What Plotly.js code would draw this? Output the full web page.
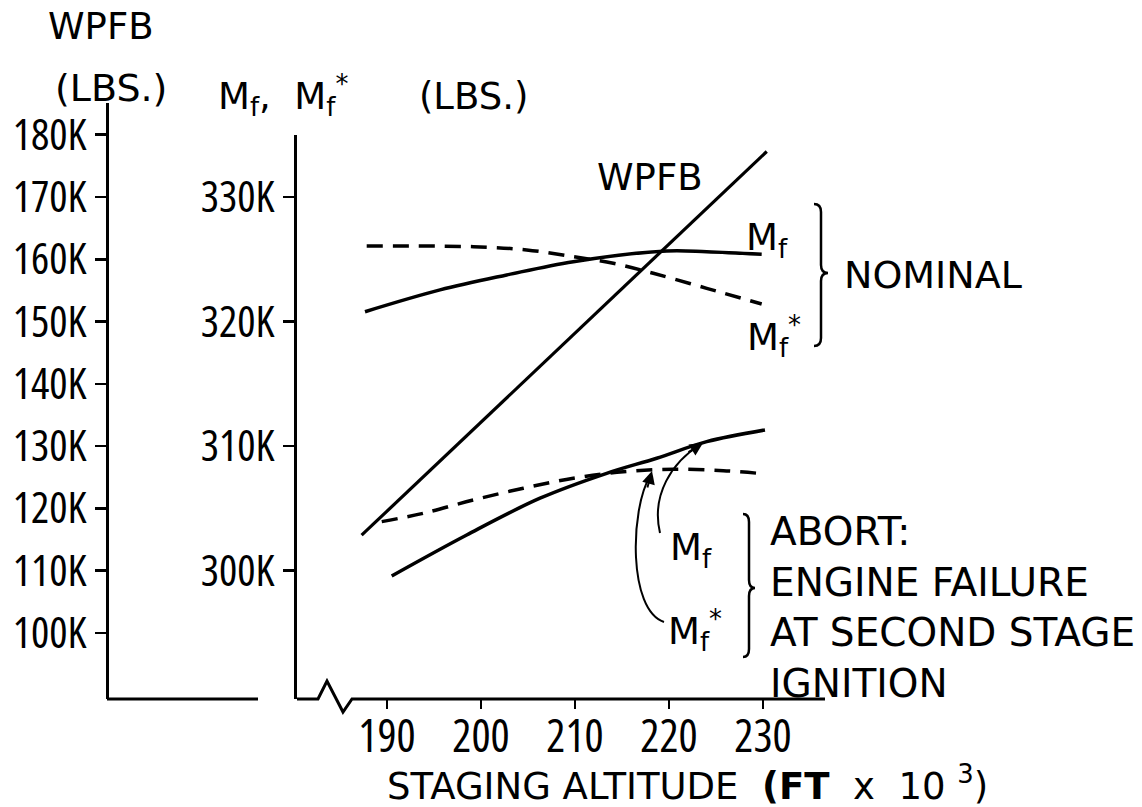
<!DOCTYPE html>
<html>
<head>
<meta charset="utf-8">
<script src="https://cdn.plot.ly/plotly-3.0.1.min.js"></script>
<style>
  html, body { margin: 0; padding: 0; background: #fff; }
  #chart { width: 1142px; height: 807px; }
  .xtick text, .ytick text, .y2tick text { font-stretch: 75%; }
</style>
</head>
<body>
<div id="chart"></div>
<script>
// ---------------- DATA ----------------
// Staging altitude in thousands of ft, masses in thousands of lbs
const altitudeTicks = [190, 200, 210, 220, 230];
const wpfbTicks = [100, 110, 120, 130, 140, 150, 160, 170, 180];
const mfTicks = [300, 310, 320, 330];

const altWPFB = [187.3, 230.4];
const wpfb = [115.7, 177.3];

const altNominalMf = [187.66, 195.64, 202.73, 209.82, 219.76, 224.01, 229.86];
const nominalMf = [320.79, 322.54, 323.74, 324.81, 325.67, 325.61, 325.40];

const altNominalMfStar = [187.84, 199.18, 204.86, 209.82, 214.07, 218.33, 224.01, 229.86];
const nominalMfStar = [326.07, 326.01, 325.75, 325.21, 324.68, 323.88, 322.67, 321.41];

const altAbortMf = [190.5, 198.48, 206.28, 213.37, 218.69, 224.01, 230.21];
const abortMf = [299.58, 302.87, 305.82, 307.82, 309.03, 310.36, 311.30];

const altAbortMfStar = [189.44, 193.86, 199.18, 204.5, 209.82, 215.14, 220.46, 225.78, 230.21];
const abortMfStar = [303.94, 304.61, 305.68, 306.62, 307.42, 307.95, 308.15, 308.03, 307.77];

// ---------------- LAYOUT HELPERS ----------------
const W = 1142, H = 807;
const fx = px => px / W;
const fy = py => 1 - py / H;
const TXT = '"DejaVu Sans", "Liberation Sans", sans-serif';
const NUM = '"Open Sans", "DejaVu Sans Condensed", "DejaVu Sans", sans-serif';
const INK = '#000';

const lineStyle = (dash) => ({ color: INK, width: 3.5, dash: dash, shape: 'spline', smoothing: 1 });

const traces = [
  { x: altWPFB, y: wpfb, xaxis: 'x', yaxis: 'y', mode: 'lines',
    line: { color: INK, width: 3.2 }, hoverinfo: 'skip', showlegend: false },
  { x: altNominalMf, y: nominalMf, xaxis: 'x', yaxis: 'y2', mode: 'lines',
    line: lineStyle('solid'), showlegend: false },
  { x: altNominalMfStar, y: nominalMfStar, xaxis: 'x', yaxis: 'y2', mode: 'lines',
    line: lineStyle('16px,10px'), showlegend: false },
  { x: altAbortMf, y: abortMf, xaxis: 'x', yaxis: 'y2', mode: 'lines',
    line: lineStyle('solid'), showlegend: false },
  { x: altAbortMfStar, y: abortMfStar, xaxis: 'x', yaxis: 'y2', mode: 'lines',
    line: lineStyle('16px,10px'), showlegend: false }
];

// pixel geometry of the frame
const xLeftPx = 297, xRightPx = 825, x190Px = 387, x230Px = 763;
const pxPerAlt = (x230Px - x190Px) / 40;
const baseY = 699;
const w100Px = 633, w170Px = 197;
const pxPerW = (w100Px - w170Px) / 70;
const pxPerMf = 2 * pxPerW; // 330K aligned with 170K

const xRange = [190 - (x190Px - xLeftPx) / pxPerAlt, 230 + (xRightPx - x230Px) / pxPerAlt];
const wTopPx = 103, mfTopPx = 135;
const wRange = [100 - (baseY - w100Px) / pxPerW, 100 + (w100Px - wTopPx) / pxPerW];
const mfRange = [330 - (baseY - w170Px) / pxPerMf, 330 + (w170Px - mfTopPx) / pxPerMf];

// path helpers (paper coords from pixels)
const pp = (px, py) => `${fx(px)},${fy(py)}`;
function brace(x0, w, yTop, yMid, yBot) {
  const r = 8;
  return `M ${pp(x0, yTop)} Q ${pp(x0 + w, yTop)} ${pp(x0 + w, yTop + r)} ` +
         `L ${pp(x0 + w, yMid - r)} Q ${pp(x0 + w, yMid)} ${pp(x0 + 2 * w, yMid)} ` +
         `Q ${pp(x0 + w, yMid)} ${pp(x0 + w, yMid + r)} ` +
         `L ${pp(x0 + w, yBot - r)} Q ${pp(x0 + w, yBot)} ${pp(x0, yBot)}`;
}
// data-coordinate helpers for annotation arrows
const dx = px => 190 + (px - x190Px) / pxPerAlt;
const dmf = py => 330 + (w170Px - py) / pxPerMf;
const dp = (px, py) => `${dx(px)},${dmf(py)}`;

const shapes = [
  // WPFB axis foot
  { type: 'line', xref: 'paper', yref: 'paper', x0: fx(107), x1: fx(258), y0: fy(baseY), y1: fy(baseY),
    line: { color: INK, width: 3 } },
  // altitude axis with break
  { type: 'path', xref: 'paper', yref: 'paper',
    path: `M ${pp(xLeftPx, baseY)} L ${pp(318, baseY)} L ${pp(327, 681)} L ${pp(343, 712)} L ${pp(352, baseY)} L ${pp(xRightPx, baseY)}`,
    line: { color: INK, width: 3 } },
  // braces
  { type: 'path', xref: 'paper', yref: 'paper', path: brace(814, 7, 204, 273, 346), line: { color: INK, width: 2.5 } },
  { type: 'path', xref: 'paper', yref: 'paper', path: brace(743, 6, 514, 588, 657), line: { color: INK, width: 2.5 } },
  // curved pointer arrows (abort group)
  { type: 'path', xref: 'x', yref: 'y2',
    path: `M ${dp(660, 533)} C ${dp(651, 495)} ${dp(672, 462)} ${dp(700, 445)}`, line: { color: INK, width: 2 } },
  { type: 'path', xref: 'x', yref: 'y2',
    path: `M ${dp(664, 622)} C ${dp(628, 610)} ${dp(630, 510)} ${dp(650, 476)}`, line: { color: INK, width: 2 } }
];

const txt = (text, px, py, xanchor, size, extra) => Object.assign({
  text: text, xref: 'paper', yref: 'paper', x: fx(px), y: fy(py),
  xanchor: xanchor || 'left', yanchor: 'middle', showarrow: false,
  font: { family: TXT, size: size || 38, color: INK }
}, extra || {});

const annotations = [
  txt('WPFB', 101, 27, 'center', 37),
  txt('(LBS.)', 111, 88, 'center', 38),
  txt('M<sub>f</sub>,&nbsp;&nbsp;M<sub>f</sub><sup>*</sup>&nbsp;&nbsp;&nbsp;&nbsp;&nbsp;&nbsp;(LBS.)', 216, 96, 'left', 37),
  txt('WPFB', 650, 178, 'center', 37),
  txt('M<sub>f</sub>', 744, 240, 'left', 37),
  txt('M<sub>f</sub><sup>*</sup>', 745, 336, 'left', 37),
  txt('NOMINAL', 842, 275, 'left', 38),
  txt('M<sub>f</sub>', 668, 550, 'left', 37),
  txt('M<sub>f</sub><sup>*</sup>', 666, 630, 'left', 37),
  txt('ABORT:<br>ENGINE FAILURE<br>AT SECOND STAGE<br>IGNITION', 768, 607, 'left', 39, { align: 'left' }),
  txt('STAGING&nbsp;ALTITUDE&nbsp;&nbsp;<b>(FT</b>&nbsp;&nbsp;x&nbsp;&nbsp;10&nbsp;<sup>3</sup>)', 385, 783, 'left', 37),
  // arrowheads of the pointers
  { xref: 'x', yref: 'y2', x: dx(703), y: dmf(443), text: '', showarrow: true,
    arrowhead: 2, arrowsize: 1.3, arrowwidth: 2, arrowcolor: INK, ax: -16, ay: 10 },
  { xref: 'x', yref: 'y2', x: dx(652), y: dmf(471), text: '', showarrow: true,
    arrowhead: 2, arrowsize: 1.3, arrowwidth: 2, arrowcolor: INK, ax: -5, ay: 18 }
];

const layout = {
  width: W, height: H,
  margin: { l: 0, r: 0, t: 0, b: 0, pad: 0 },
  paper_bgcolor: '#fff', plot_bgcolor: 'rgba(0,0,0,0)',
  showlegend: false,
  xaxis: {
    domain: [fx(xLeftPx), fx(xRightPx)], range: xRange, anchor: 'y2',
    showline: false, showgrid: false, zeroline: false,
    tickvals: altitudeTicks, ticktext: altitudeTicks.map(String),
    ticks: 'outside', ticklen: 9, tickwidth: 2.5, tickcolor: INK,
    ticklabelstandoff: -11,
    tickfont: { family: NUM, size: 45, color: INK }
  },
  yaxis: {
    domain: [fy(baseY), fy(wTopPx)], range: wRange,
    anchor: 'free', position: fx(107), side: 'left',
    showline: true, linewidth: 3, linecolor: INK, showgrid: false, zeroline: false,
    tickvals: wpfbTicks, ticktext: wpfbTicks.map(v => v + 'K'),
    ticks: 'outside', ticklen: 11, tickwidth: 2.5, tickcolor: INK,
    tickfont: { family: NUM, size: 43, color: INK }
  },
  yaxis2: {
    domain: [fy(baseY), fy(mfTopPx)], range: mfRange,
    anchor: 'x', side: 'left',
    showline: true, linewidth: 3, linecolor: INK, showgrid: false, zeroline: false,
    tickvals: mfTicks, ticktext: mfTicks.map(v => v + 'K'),
    ticks: 'outside', ticklen: 11, tickwidth: 2.5, tickcolor: INK,
    tickfont: { family: NUM, size: 43, color: INK }
  },
  shapes: shapes,
  annotations: annotations
};

Plotly.newPlot('chart', traces, layout, { staticPlot: true, displayModeBar: false });
</script>
</body>
</html>
